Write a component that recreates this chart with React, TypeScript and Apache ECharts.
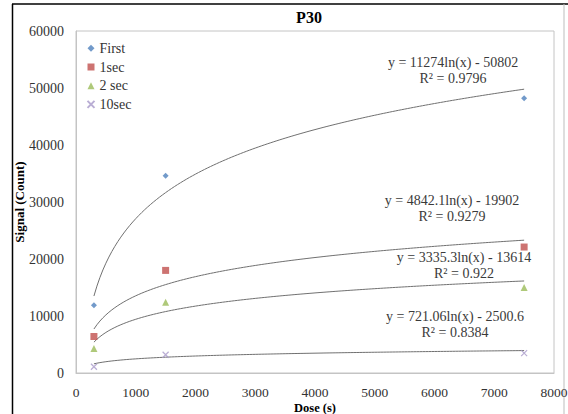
import React, { useEffect, useRef } from "react";
import * as echarts from "echarts";

const doses = [300, 1500, 7500];
const seriesNames = ["First", "1sec", "2 sec", "10sec"];
const firstValues = [11900, 34600, 48200];
const oneSecValues = [6400, 18000, 22100];
const twoSecValues = [4300, 12400, 15000];
const tenSecValues = [1100, 3200, 3500];
const trendSlopes = [11274, 4842.1, 3335.3, 721.06];
const trendIntercepts = [-50802, -19902, -13614, -2500.6];
const equationLabels = [
  "y = 11274ln(x) - 50802",
  "y = 4842.1ln(x) - 19902",
  "y = 3335.3ln(x) - 13614",
  "y = 721.06ln(x) - 2500.6",
];
const r2Labels = ["R\u00b2 = 0.9796", "R\u00b2 = 0.9279", "R\u00b2 = 0.922", "R\u00b2 = 0.8384"];

const FONT = "Liberation Serif";
const colors = ["#4F81BD", "#C0504D", "#9BBB59", "#A899C9"];
const symbols = ["diamond", "rect", "triangle", "path://M0,0L10,10M10,0L0,10"];
const symbolSizes = [6, 7, 7, 6];
const labelPos = [
  [453, 70.5],
  [452, 208.5],
  [464, 265.5],
  [455, 324.5],
];

export default function App() {
  const ref = useRef<HTMLDivElement>(null);
  useEffect(() => {
    if (!ref.current) return;
    const chart = echarts.init(ref.current, undefined, { renderer: "svg" });
    const valueSets = [firstValues, oneSecValues, twoSecValues, tenSecValues];
    const scatterSeries = seriesNames.map((name, i) => ({
      name,
      type: "scatter",
      data: doses.map((d, j) => [d, valueSets[i][j]]),
      symbol: symbols[i],
      symbolSize: symbolSizes[i],
      itemStyle:
        i === 3
          ? { color: colors[i], borderColor: colors[i], borderWidth: 1.2 }
          : { color: colors[i] },
      z: 3,
    }));
    const minX = doses[0];
    const maxX = doses[doses.length - 1];
    const trendSeries = trendSlopes.map((a, i) => {
      const pts: number[][] = [];
      for (let x = minX; x <= maxX; x += 50) {
        pts.push([x, a * Math.log(x) + trendIntercepts[i]]);
      }
      return {
        name: "trend" + i,
        type: "line",
        data: pts,
        showSymbol: false,
        lineStyle: { color: "#707070", width: 1 },
        z: 2,
        silent: true,
      };
    });
    chart.setOption({
      animation: false,
      backgroundColor: "#ffffff",
      textStyle: { fontFamily: FONT },
      title: {
        text: "P30",
        left: 304,
        top: 4,
        textAlign: "center",
        textStyle: { fontFamily: FONT, fontSize: 16, fontWeight: "bold", color: "#000" },
      },
      legend: {
        data: seriesNames,
        orient: "vertical",
        left: 86.5,
        top: 41.3,
        padding: 0,
        itemWidth: 7,
        itemHeight: 7,
        itemGap: 4.7,
        itemTextGap: 3.5,
        textStyle: { fontFamily: FONT, fontSize: 14, color: "#333", lineHeight: 14 },
      },
      grid: {
        left: 76,
        top: 31,
        right: 14,
        bottom: 41,
        outerBoundsMode: "none",
        containLabel: false,
        show: true,
        borderColor: "#c4c4c4",
        borderWidth: 1,
        backgroundColor: "#fff",
      },
      xAxis: {
        type: "value",
        min: 0,
        max: 8000,
        interval: 1000,
        name: "Dose (s)",
        nameLocation: "middle",
        nameGap: 28,
        nameMoveOverlap: false,
        nameTextStyle: { fontFamily: FONT, fontSize: 12.5, fontWeight: "bold", color: "#000" },
        axisLine: { show: true, lineStyle: { color: "#c4c4c4" } },
        axisTick: { show: false },
        splitLine: { show: false },
        axisLabel: {
          fontFamily: FONT,
          fontSize: 13.5,
          color: "#333",
          margin: 12,
          formatter: (v: number) => String(v),
        },
      },
      yAxis: {
        type: "value",
        min: 0,
        max: 60000,
        interval: 10000,
        name: "Signal (Count)",
        nameLocation: "middle",
        nameGap: 50,
        nameMoveOverlap: false,
        nameTextStyle: { fontFamily: FONT, fontSize: 13, fontWeight: "bold", color: "#000" },
        axisLine: { show: true, lineStyle: { color: "#c4c4c4" } },
        axisTick: { show: false },
        splitLine: { show: false },
        axisLabel: {
          fontFamily: FONT,
          fontSize: 14,
          color: "#333",
          margin: 12,
          formatter: (v: number) => String(v),
        },
      },
      graphic: [
        { type: "line", shape: { x1: 12, y1: 4, x2: 568, y2: 4 }, style: { stroke: "#000", lineWidth: 1.5 } },
        { type: "line", shape: { x1: 12.5, y1: 4, x2: 12.5, y2: 414 }, style: { stroke: "#000", lineWidth: 1.5 } },
        { type: "line", shape: { x1: 564, y1: 4, x2: 564, y2: 414 }, style: { stroke: "#bdbdbd", lineWidth: 1 } },
        ...equationLabels.map((t, i) => ({
          type: "text",
          x: labelPos[i][0],
          y: labelPos[i][1],
          style: {
            text: t + "\n" + r2Labels[i],
            align: "center",
            verticalAlign: "middle",
            fontFamily: FONT,
            fontSize: 14,
            lineHeight: 16,
            fill: "#3a3a3a",
          },
          z: 10,
        })),
      ],
      series: [...trendSeries, ...scatterSeries],
    });
    return () => chart.dispose();
  }, []);
  return (
    <div
      ref={ref}
      style={{ position: "fixed", left: 0, top: 0, width: 568, height: 414 }}
    />
  );
}
